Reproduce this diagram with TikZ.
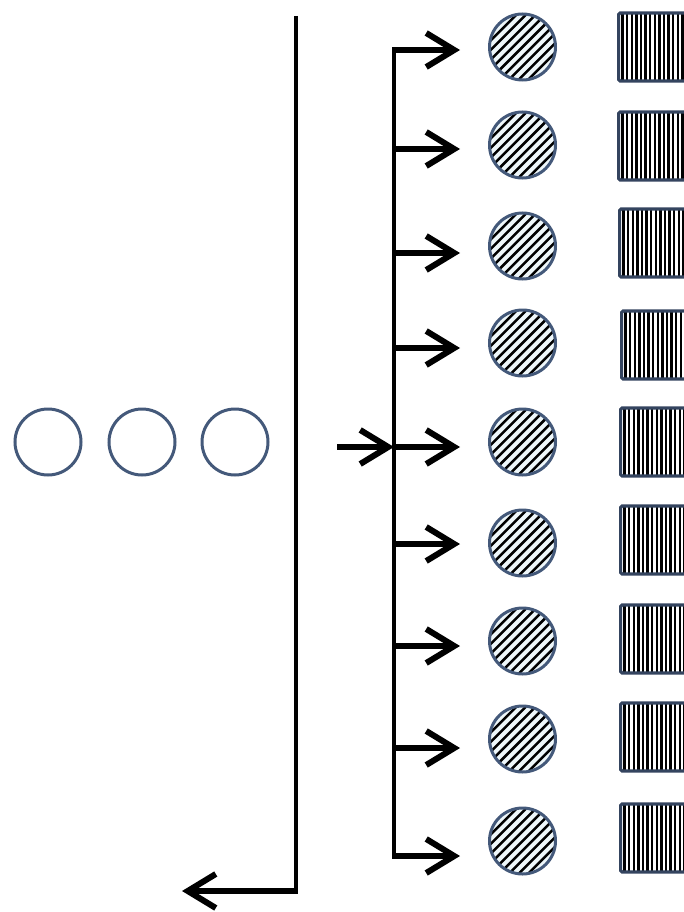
\documentclass[tikz,border=0pt]{standalone}
\usetikzlibrary{arrows.meta}
\definecolor{circblue}{HTML}{44597A}
\definecolor{circfill}{HTML}{EEF7FA}
\definecolor{rectblue}{HTML}{34445F}
\begin{document}
\begin{tikzpicture}[x=1pt,y=-1pt,
  hatchcirc/.style={circle, draw=circblue, line width=3pt, fill=circfill,
    minimum size=66pt, inner sep=0pt,
    path picture={\foreach \k in {-8,...,8}{
      \draw[line width=2.5pt, black] ([xshift=\k*9.6pt]path picture bounding box.center) ++(-50,50) -- ++(100,-100);}}},
  stripebox/.style={rectangle, draw=rectblue, line width=3.2pt, fill=white, rounded corners=1.5pt,
    minimum width=92pt, minimum height=68pt, inner sep=0pt, anchor=west,
    path picture={\foreach \k in {0,...,22}{
      \draw[line width=2.4pt, black] ([xshift=\k*4.6pt+4pt]path picture bounding box.south west) -- ([xshift=\k*4.6pt+4pt]path picture bounding box.north west);}}},
  opencirc/.style={circle, draw=circblue, line width=3pt, minimum size=66pt, inner sep=0pt},
  thinline/.style={line width=3.5pt, black},
  arr/.style={line width=6pt, black, -{Straight Barb[length=28pt, width=34pt]}},
]
\useasboundingbox (0,0) rectangle (684,912);

% left open circles
\node[opencirc] (l1) at (48,442) {};
\node[opencirc] (l2) at (142,442) {};
\node[opencirc] (l3) at (235,442) {};

% long return line
\coordinate (top) at (296,16);
\coordinate (bot) at (296,891);
\coordinate (botc) at (297.7,891);
\coordinate (out) at (182,891);
\draw[thinline] (top) -- (bot);
\draw[arr] (botc) -- (out);

% bracket
\coordinate (btop) at (394,48);
\coordinate (bbot) at (394,858);
\draw[thinline] (btop) -- (bbot);

% input arrow
\coordinate (in) at (337,447);
\coordinate (inend) at (394,447);
\draw[arr] (in) -- (inend);

% rows
\foreach \i/\ay/\cy/\ry/\rx in {1/50/47/47/617, 2/149/145/146/617, 3/253/246/243/618,
  4/348/343/345/620, 5/447/442/442/619, 6/544/543/540/619, 7/646/641/639/619,
  8/748/739/737/619, 9/856/841/838/619}{
  \node[hatchcirc] (c\i) at (522.5,\cy) {};
  \node[stripebox] (r\i) at (\rx,\ry) {};
  \coordinate (b\i) at (392.3,\ay);
  \coordinate (t\i) at (460,\ay);
  \draw[arr] (b\i) -- (t\i);
}
\end{tikzpicture}
\end{document}
